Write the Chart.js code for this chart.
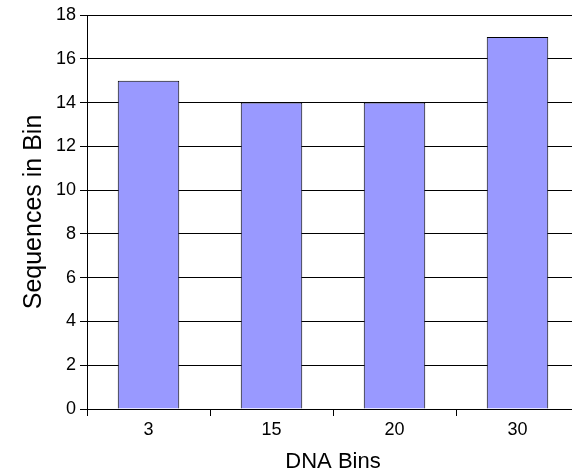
<!DOCTYPE html>
<html>
<head>
<meta charset="utf-8">
<script src="https://cdn.jsdelivr.net/npm/chart.js@4/dist/chart.umd.min.js"></script>
<style>
    html, body { margin: 0; padding: 0; background: #fff; overflow: hidden; }
    #wrap { width: 580px; height: 475px; }
</style>
</head>
<body>
<div id="wrap"><canvas id="binChart" width="580" height="475"></canvas></div>
<script>
// Chart data
const binLabels = ['3', '15', '20', '30'];
const sequenceCounts = [15, 14, 14, 17];
const yTicks = [0, 2, 4, 6, 8, 10, 12, 14, 16, 18];

const ctx = document.getElementById('binChart').getContext('2d');

new Chart(ctx, {
    type: 'bar',
    data: {
        labels: binLabels,
        datasets: [{
            label: 'Sequences in Bin',
            data: sequenceCounts,
            backgroundColor: '#9999ff',
            borderColor: '#000000',
            borderWidth: 1,
            barPercentage: 0.5,
            categoryPercentage: 1.0
        }]
    },
    options: {
        responsive: false,
        animation: false,
        devicePixelRatio: 1,
        layout: { padding: { top: 15, right: 1, left: 0, bottom: 0 } },
        plugins: {
            legend: { display: false },
            tooltip: { enabled: false }
        },
        scales: {
            x: {
                offset: true,
                border: { display: true, color: '#000', width: 1 },
                grid: {
                    offset: true,
                    drawOnChartArea: false,
                    drawTicks: true,
                    tickLength: 7,
                    color: '#000'
                },
                ticks: {
                    color: '#000',
                    padding: 3,
                    font: { family: 'Liberation Sans', size: 18 }
                },
                title: {
                    display: true,
                    text: 'DNA Bins',
                    color: '#000',
                    padding: { top: 0, bottom: 0 },
                    font: { family: 'Liberation Sans', size: 22 }
                },
                afterFit: scale => { scale.height = 66; }
            },
            y: {
                min: 0,
                max: 18,
                border: { display: true, color: '#000', width: 1 },
                grid: {
                    color: '#000',
                    tickLength: 7
                },
                afterBuildTicks: scale => {
                    scale.ticks = yTicks.map(v => ({ value: v }));
                },
                ticks: {
                    color: '#000',
                    padding: 4,
                    font: { family: 'Liberation Sans', size: 18 }
                },
                title: {
                    display: true,
                    text: 'Sequences in Bin',
                    color: '#000',
                    padding: { top: 19, bottom: 0 },
                    font: { family: 'Liberation Sans', size: 25 }
                },
                afterFit: scale => { scale.width = 87; }
            }
        }
    }
});
</script>
</body>
</html>
